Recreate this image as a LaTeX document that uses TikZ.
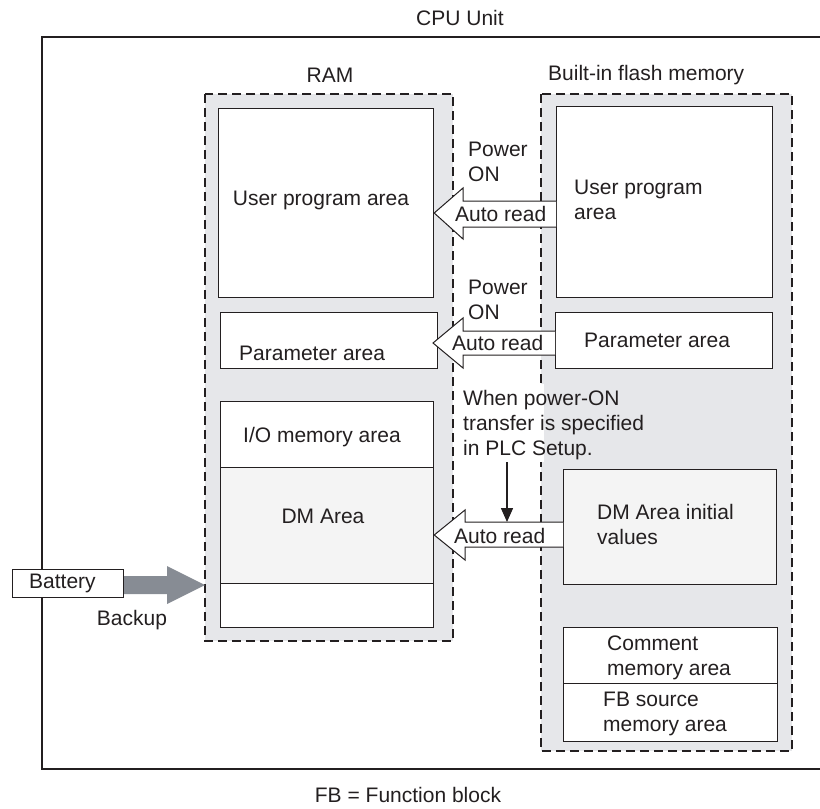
\documentclass[tikz,border=0pt]{standalone}
\usepackage{fontspec}
\setmainfont{Liberation Sans}
\usetikzlibrary{arrows.meta}
\definecolor{ink}{HTML}{231F20}
\definecolor{memgray}{HTML}{E6E7EA}
\definecolor{dmfill}{HTML}{F4F4F4}
\definecolor{batgray}{HTML}{878C94}
\tikzset{
  membox/.style={draw=ink, line width=1.6pt, dash pattern=on 9pt off 5pt, fill=memgray},
  areabox/.style={draw=ink, line width=1.2pt, fill=white, rectangle, inner sep=0pt, anchor=north west},
  lbl/.style={text=ink, inner sep=0pt, font=\fontsize{21}{25}\selectfont},
  lbll/.style={lbl, anchor=west, align=left},
  blockarrow/.style={draw=ink, line width=1pt, fill=white, line join=miter},
}
\begin{document}
\begin{tikzpicture}[x=1pt,y=-1pt]
\useasboundingbox (0,0) rectangle (820,809);
% CPU unit frame
\node[lbl] (cpu) at (460,18) {CPU Unit};
\draw[ink, line width=1.2pt] (820,37) -- (42,37) -- (42,769) -- (820,769);
% memory regions
\node[lbl] (ramlbl) at (330,75) {RAM};
\node[lbll] (fllbl) at (548,75) {Built-in flash memory};
\draw[membox] (205,94) rectangle (453,641);
\draw[membox] (541,94) rectangle (792,751);
% RAM areas
\node[areabox, minimum width=215pt, minimum height=189pt] (ramup) at (218,108) {};
\node[areabox, minimum width=217pt, minimum height=56pt] (rampar) at (220,312) {};
\node[areabox, minimum width=213pt, minimum height=66pt] (ramio) at (220,401) {};
\node[areabox, minimum width=213pt, minimum height=116pt, fill=dmfill] (ramdm) at (220,467) {};
\node[areabox, minimum width=213pt, minimum height=44pt] (ramlow) at (220,583) {};
\node[lbl] at (321,200) {User program area};
\node[lbll] at (239,353) {Parameter area};
\node[lbll] at (243,437) {I/O memory area};
\node[lbl] at (323,516) {DM Area};
% Flash areas
\node[areabox, minimum width=216pt, minimum height=191pt] (flup) at (556,106) {};
\node[areabox, minimum width=217pt, minimum height=56pt] (flpar) at (555,312) {};
\node[areabox, minimum width=213pt, minimum height=115pt, fill=dmfill] (fldm) at (563,469) {};
\node[areabox, minimum width=214pt, minimum height=56pt] (flcom) at (563,627) {};
\node[areabox, minimum width=214pt, minimum height=58pt] (flfb) at (563,683) {};
\node[lbll] at (574,200) {User program\\area};
\node[lbll] at (584,340) {Parameter area};
\node[lbll] at (597,524) {DM Area initial\\values};
\node[lbll] at (607,658) {Comment\\memory area};
\node[lbll] at (603,714) {FB source\\memory area};
% gap in flash dashed line behind the note
\fill[white] (456,384) rectangle (543.5,462);
% transfer arrows
\draw[blockarrow] (flup.west |- 0,201) -- (463,201) -- (463,188) -- (ramup.east |- 0,213) -- (463,239) -- (463,227) -- (flup.west |- 0,227);
\draw[blockarrow] (flpar.west |- 0,331) -- (463,331) -- (463,318) -- (433,343) -- (463,368) -- (463,355) -- (flpar.west |- 0,355);
\draw[blockarrow] (fldm.west |- 0,522) -- (465,522) -- (465,510) -- (ramdm.east |- 0,535) -- (465,560) -- (465,547) -- (fldm.west |- 0,547);
\node[lbll] at (468,162) {Power\\ON};
\node[lbll] at (455,214) {Auto read};
\node[lbll] at (468,300) {Power\\ON};
\node[lbll] at (452,343) {Auto read};
\node[lbll] (note) at (463,425) {When power-ON\\transfer is specified\\in PLC Setup.};
\node[lbll] at (454,536) {Auto read};
\coordinate (notetip) at (507,522);
\draw[ink, line width=1.5pt, -{Triangle[width=12pt,length=14pt]}] (507,462) -- (notetip);
% battery
\fill[batgray] (123,576) -- (167,576) -- (167,566) -- (205,585) -- (167,604) -- (167,594) -- (123,594) -- cycle;
\node[areabox, minimum width=111pt, minimum height=28pt] (bat) at (12,569) {};
\node[lbll] at (29,583) {Battery};
\node[lbl] (backup) at (132,620) {Backup};
\node[lbl] (fbnote) at (408,795) {FB = Function block};
\end{tikzpicture}
\end{document}
